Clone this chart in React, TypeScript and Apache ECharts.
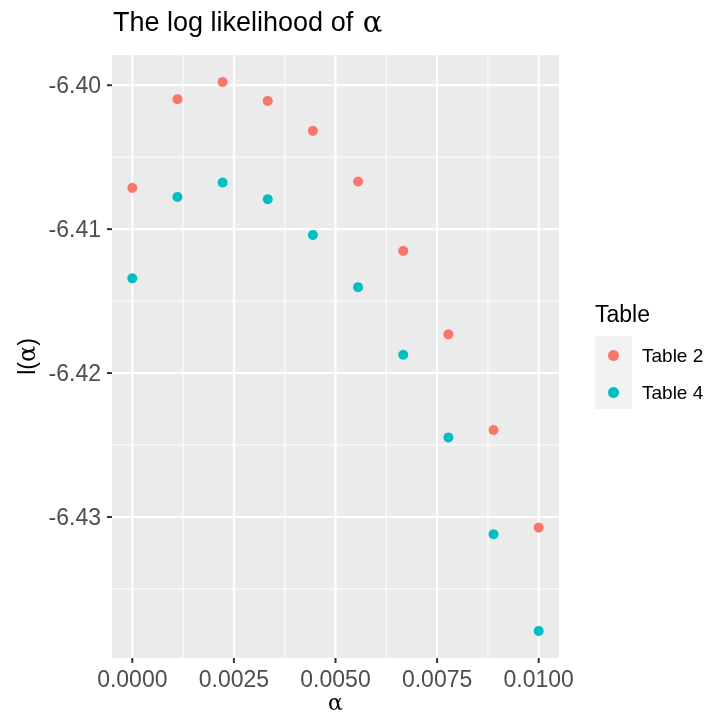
import React, { useEffect, useRef } from "react";
import * as echarts from "echarts";

const alpha = [0, 0.001111, 0.002222, 0.003333, 0.004444, 0.005556, 0.006667, 0.007778, 0.008889, 0.01];
const table2 = [-6.40713, -6.40097, -6.39977, -6.40109, -6.40317, -6.40669, -6.41151, -6.41731, -6.42396, -6.43074];
const table4 = [-6.41342, -6.40776, -6.40676, -6.40792, -6.4104, -6.41403, -6.41873, -6.42447, -6.4312, -6.43792];
const xTicks = [0, 0.0025, 0.005, 0.0075, 0.01];
const xMinor = [0.00125, 0.00375, 0.00625, 0.00875];
const yTicks = [-6.4, -6.41, -6.42, -6.43];
const yMinor = [-6.405, -6.415, -6.425, -6.435];
const seriesNames = ["Table 2", "Table 4"];
const colors = ["#F8766D", "#00BFC4"];

const X_MIN = -0.0005;
const X_MAX = 0.0105;
const Y_MIN = -6.4398;
const Y_MAX = -6.3979;

const FONT = "Liberation Sans, Arial, Helvetica, sans-serif";

type GridLine = { axis: "x" | "y"; v: number; major: boolean };

export default function App() {
  const ref = useRef<HTMLDivElement>(null);
  useEffect(() => {
    if (!ref.current) return;
    const chart = echarts.init(ref.current, undefined, { renderer: "svg" });
    const lines: GridLine[] = [
      ...xMinor.map((v) => ({ axis: "x" as const, v, major: false })),
      ...yMinor.map((v) => ({ axis: "y" as const, v, major: false })),
      ...xTicks.map((v) => ({ axis: "x" as const, v, major: true })),
      ...yTicks.map((v) => ({ axis: "y" as const, v, major: true })),
    ];
    const gridData = lines.map((l) => (l.axis === "x" ? [l.v, -6.42] : [0.005, l.v]));
    const baseGraphic: any[] = [
      { id: "keybg", type: "rect", left: 595, top: 336, shape: { width: 37, height: 73 }, style: { fill: "#F2F2F2" }, z: -1 },
      { id: "legtitle", type: "text", left: 595, top: 302, style: { text: "Table", fontSize: 23, fill: "#000000", fontFamily: FONT } },
    ];
    chart.setOption({
      animation: false,
      textStyle: { fontFamily: FONT },
      title: {
        text: "The log likelihood of {a|α}",
        left: 113,
        top: 7,
        padding: 0,
        textStyle: {
          fontSize: 27,
          fontWeight: "normal",
          color: "#000000",
          fontFamily: FONT,
          rich: { a: { fontSize: 29, fontFamily: "DejaVu Serif", color: "#000000", padding: [0, 0, 0, 2] } },
        },
      },
      grid: {
        left: 112,
        top: 55,
        right: 150,
        bottom: 56,
        show: true,
        backgroundColor: "#EBEBEB",
        borderWidth: 0,
        outerBoundsMode: "none",
        containLabel: false,
      },
      xAxis: {
        type: "value",
        min: X_MIN,
        max: X_MAX,
        name: "α",
        nameLocation: "middle",
        nameGap: 33,
        nameMoveOverlap: false,
        nameTextStyle: { fontSize: 22, lineHeight: 22, color: "#000000", fontFamily: "DejaVu Serif" },
        axisLine: { show: false, onZero: false },
        splitLine: { show: false },
        axisTick: { show: false },
        axisLabel: {
          customValues: xTicks,
          margin: 9,
          fontSize: 23,
          color: "#4D4D4D",
          fontFamily: FONT,
          formatter: (v: number) => v.toFixed(4),
        },
      },
      yAxis: {
        type: "value",
        min: Y_MIN,
        max: Y_MAX,
        name: "l({a|α})",
        nameLocation: "middle",
        nameRotate: 90,
        nameGap: 73,
        nameMoveOverlap: false,
        nameTextStyle: {
          fontSize: 23,
          color: "#000000",
          fontFamily: FONT,
          rich: { a: { fontSize: 24, fontFamily: "DejaVu Serif", color: "#000000" } },
        },
        axisLine: { show: false, onZero: false },
        splitLine: { show: false },
        axisTick: { show: false },
        axisLabel: {
          customValues: yTicks,
          margin: 11,
          fontSize: 23,
          color: "#4D4D4D",
          fontFamily: FONT,
          formatter: (v: number) => v.toFixed(2),
        },
      },
      legend: {
        data: seriesNames,
        orient: "vertical",
        left: 603,
        top: 341,
        itemWidth: 11,
        itemHeight: 11,
        itemGap: 18,
        icon: "circle",
        textStyle: { fontSize: 19, color: "#000000", fontFamily: FONT, padding: [0, 0, 0, 18] },
      },
      graphic: baseGraphic,
      series: [
        {
          name: "grid",
          type: "custom",
          z: 1,
          silent: true,
          encode: { x: 0, y: 1 },
          data: gridData,
          renderItem: (params: any, api: any) => {
            const l = lines[params.dataIndex];
            const cs = params.coordSys;
            const style = { stroke: "#FFFFFF", lineWidth: l.major ? 2 : 1, fill: null };
            if (l.axis === "x") {
              const px = api.coord([l.v, Y_MIN])[0];
              return { type: "line", shape: { x1: px, y1: cs.y, x2: px, y2: cs.y + cs.height }, style };
            }
            const py = api.coord([X_MIN, l.v])[1];
            return { type: "line", shape: { x1: cs.x, y1: py, x2: cs.x + cs.width, y2: py }, style };
          },
        },
        ...seriesNames.map((name, i) => ({
          name,
          type: "scatter",
          z: 5,
          symbolSize: 10,
          itemStyle: { color: colors[i], opacity: 1 },
          data: alpha.map((a, j) => [a, i === 0 ? table2[j] : table4[j]]),
        })),
      ],
    });
    // axis tick marks, positioned through the chart's own scales
    const finder = { xAxisIndex: 0, yAxisIndex: 0 };
    const tickEls: any[] = [];
    xTicks.forEach((v, i) => {
      const p = chart.convertToPixel(finder as any, [v, Y_MIN]) as any;
      if (p && isFinite(p[0]) && isFinite(p[1])) {
        tickEls.push({
          id: "xt" + i,
          type: "rect",
          x: 0,
          y: 0,
          shape: { x: p[0] - 1, y: p[1], width: 2, height: 5 },
          style: { fill: "#333333" },
          z: 100,
        });
      }
    });
    yTicks.forEach((v, i) => {
      const p = chart.convertToPixel(finder as any, [X_MIN, v]) as any;
      if (p && isFinite(p[0]) && isFinite(p[1])) {
        tickEls.push({
          id: "yt" + i,
          type: "rect",
          x: 0,
          y: 0,
          shape: { x: p[0] - 5, y: p[1] - 1, width: 5, height: 2 },
          style: { fill: "#333333" },
          z: 100,
        });
      }
    });
    chart.setOption({ graphic: [...baseGraphic, ...tickEls] });
    return () => chart.dispose();
  }, []);
  return <div ref={ref} style={{ position: "fixed", left: 0, top: 0, width: 709, height: 714 }} />;
}
